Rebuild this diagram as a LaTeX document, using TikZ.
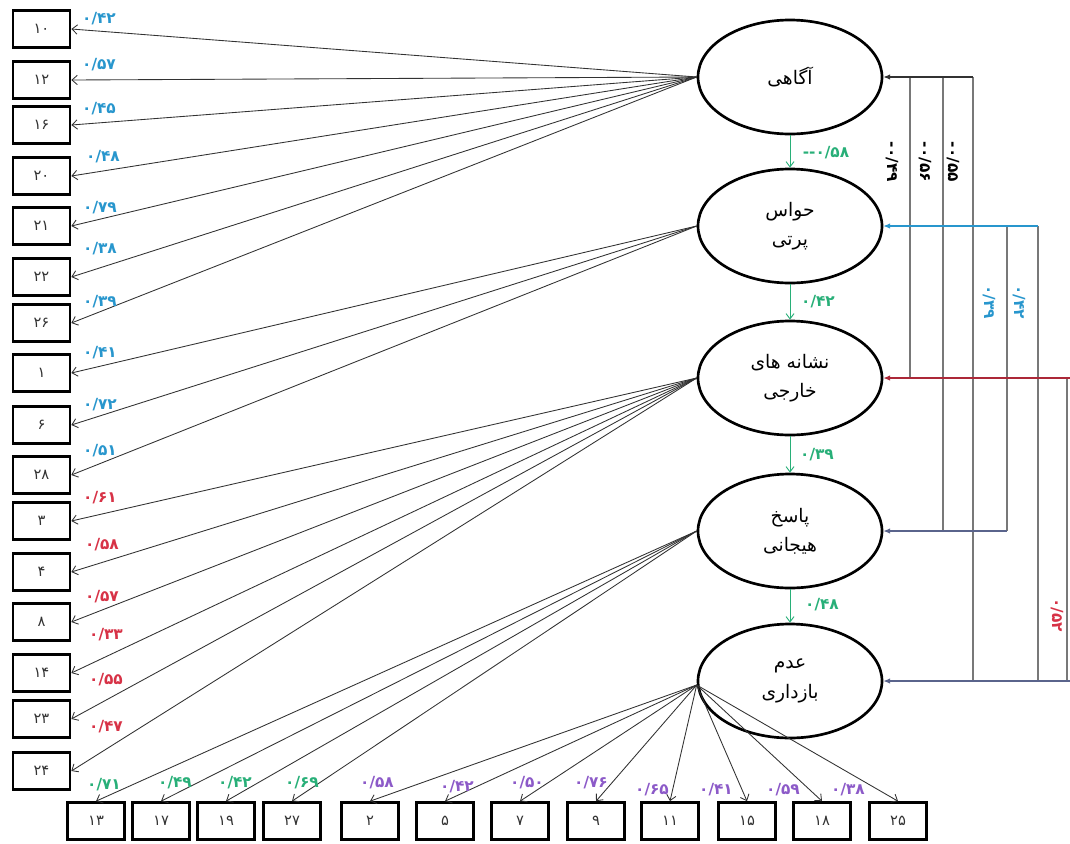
\documentclass[tikz,border=0pt]{standalone}
\usepackage{fontspec}
\setmainfont{DejaVu Sans}
\newfontfamily\fa[Script=Arabic]{DejaVu Sans}
\newfontfamily\lat{DejaVu Sans}
\TeXXeTstate=1
\usetikzlibrary{arrows.meta,shapes.geometric}
\definecolor{cblue}{RGB}{40,150,205}
\definecolor{cred}{RGB}{215,50,70}
\definecolor{cgreen}{RGB}{40,175,120}
\definecolor{cpurple}{RGB}{140,90,200}
\definecolor{cline}{RGB}{50,50,50}
\definecolor{cgray}{RGB}{120,120,120}
\definecolor{cslate}{RGB}{90,100,140}
\newcommand{\mns}{{\lat\bfseries -}}
\begin{document}
\begin{tikzpicture}[x=0.75pt,y=-0.75pt,
  lat/.style={ellipse,draw,line width=2pt,minimum width=138pt,minimum height=85.5pt,inner sep=0pt,align=center,font=\fa\fontsize{14}{22}\selectfont},
  obs/.style={draw,line width=2pt,minimum width=42.75pt,minimum height=27.75pt,inner sep=0pt,font=\fa\fontsize{11}{13}\selectfont,text=cline},
  lbl/.style={inner sep=0pt,font=\fa\bfseries\fontsize{11.5}{13}\selectfont},
  fan/.style={draw=cline,line width=0.65pt,-{Straight Barb[length=4pt,width=7pt]}},
  path/.style={draw=cgreen,line width=0.7pt,-{Straight Barb[length=4pt,width=6pt]}},
  vline/.style={draw=cgray,line width=0.9pt}]
\useasboundingbox (0,0) rectangle (1070,843);

% latent variables
\node[lat] (e1) at (790,77) {\beginR آگاهی\endR};
\node[lat] (e2) at (790,226) {\beginR حواس\endR\\\beginR پرتی\endR};
\node[lat] (e3) at (790,378) {\beginR نشانه های\endR\\\beginR خارجی\endR};
\node[lat] (e4) at (790,531) {\beginR پاسخ\endR\\\beginR هیجانی\endR};
\node[lat] (e5) at (790,681) {\beginR عدم\endR\\\beginR بازداری\endR};

% left boxes
\node[obs] (b10) at (41.5,29) {۱۰};
\node[obs] (b12) at (41.5,80) {۱۲};
\node[obs] (b16) at (41.5,125) {۱۶};
\node[obs] (b20) at (41.5,176) {۲۰};
\node[obs] (b21) at (41.5,226) {۲۱};
\node[obs] (b22) at (41.5,277) {۲۲};
\node[obs] (b26) at (41.5,323) {۲۶};
\node[obs] (b1) at (41.5,373) {۱};
\node[obs] (b6) at (41.5,425) {۶};
\node[obs] (b28) at (41.5,475) {۲۸};
\node[obs] (b3) at (41.5,521) {۳};
\node[obs] (b4) at (41.5,572) {۴};
\node[obs] (b8) at (41.5,622) {۸};
\node[obs] (b14) at (41.5,673) {۱۴};
\node[obs] (b23) at (41.5,719) {۲۳};
\node[obs] (b24) at (41.5,771) {۲۴};

% bottom boxes
\node[obs] (b13) at (96,821) {۱۳};
\node[obs] (b17) at (161,821) {۱۷};
\node[obs] (b19) at (226,821) {۱۹};
\node[obs] (b27) at (292,821) {۲۷};
\node[obs] (b2) at (370,821) {۲};
\node[obs] (b5) at (445,821) {۵};
\node[obs] (b7) at (520,821) {۷};
\node[obs] (b9) at (596,821) {۹};
\node[obs] (b11) at (670,821) {۱۱};
\node[obs] (b15) at (747,821) {۱۵};
\node[obs] (b18) at (822,821) {۱۸};
\node[obs] (b25) at (898,821) {۲۵};

% fan connectors
\foreach \b in {b10,b12,b16,b20,b21,b22,b26} \draw[fan] (e1.west) -- (\b.east);
\foreach \b in {b1,b6,b28} \draw[fan] (e2.west) -- (\b.east);
\foreach \b in {b3,b4,b8,b14,b23,b24} \draw[fan] (e3.west) -- (\b.east);
\foreach \b in {b13,b17,b19,b27} \draw[fan] (e4.west) -- (\b.north);
\foreach \b in {b2,b5,b7,b9,b11,b15,b18,b25} \draw[fan] ([yshift=-3pt]e5.west) -- (\b.north);

% paths between latent variables
\draw[path] (e1.south) -- (e2.north);
\draw[path] (e2.south) -- (e3.north);
\draw[path] (e3.south) -- (e4.north);
\draw[path] (e4.south) -- (e5.north);

% correlation lines on the right
\coordinate (a1) at (910,77);
\coordinate (a2) at (943,77);
\coordinate (a3) at (973,77);
\coordinate (a1b) at (910,378);
\coordinate (a2b) at (943,531);
\coordinate (a3b) at (973,681);
\coordinate (c1) at (1007,226);
\coordinate (c2) at (1038,226);
\coordinate (c1b) at (1007,531);
\coordinate (c2b) at (1038,681);
\coordinate (d1) at (1067,378);
\coordinate (d1b) at (1067,681);
\coordinate (redend) at (1070,378);
\coordinate (e5end) at (1070,681);

\draw[vline] (a1) -- (a1b);
\draw[vline] (a2) -- (a2b);
\draw[vline] (a3) -- (a3b);
\draw[vline] (c1) -- (c1b);
\draw[vline] (c2) -- (c2b);
\draw[vline] (d1) -- (d1b);
\draw[draw=cline,line width=0.8pt,{Latex[length=5pt,width=4pt]}-] (e1.east) -- (a3);
\draw[draw=cblue,line width=0.8pt,{Latex[length=5pt,width=4pt]}-] (e2.east) -- (c2);
\draw[draw=cred!80!black,line width=0.8pt,{Latex[length=5pt,width=4pt]}-] (e3.east) -- (redend);
\draw[draw=cslate,line width=0.8pt,{Latex[length=5pt,width=4pt]}-] (e4.east) -- (c1b);
\draw[draw=cslate,line width=0.8pt,{Latex[length=5pt,width=4pt]}-] (e5.east) -- (e5end);

% left labels
\node[lbl,text=cblue] (l10) at (99,19) {۰/۴۲};
\node[lbl,text=cblue] (l12) at (99,65) {۰/۵۷};
\node[lbl,text=cblue] (l16) at (99,109) {۰/۴۵};
\node[lbl,text=cblue] (l20) at (103,157) {۰/۴۸};
\node[lbl,text=cblue] (l21) at (100,208) {۰/۷۹};
\node[lbl,text=cblue] (l22) at (100,249) {۰/۳۸};
\node[lbl,text=cblue] (l26) at (100,302) {۰/۳۹};
\node[lbl,text=cblue] (l1) at (100,353) {۰/۴۱};
\node[lbl,text=cblue] (l6) at (100,405) {۰/۷۲};
\node[lbl,text=cblue] (l28) at (100,451) {۰/۵۱};
\node[lbl,text=cred] (l3) at (100,498) {۰/۶۱};
\node[lbl,text=cred] (l4) at (102,545) {۰/۵۸};
\node[lbl,text=cred] (l8) at (102,597) {۰/۵۷};
\node[lbl,text=cred] (l14) at (106,635) {۰/۳۳};
\node[lbl,text=cred] (l23) at (106,680) {۰/۵۵};
\node[lbl,text=cred] (l24) at (106,727) {۰/۴۷};

% bottom labels
\node[lbl,text=cgreen] (l13) at (104,785) {۰/۷۱};
\node[lbl,text=cgreen] (l17) at (175,783) {۰/۴۹};
\node[lbl,text=cgreen] (l19) at (235,783) {۰/۴۲};
\node[lbl,text=cgreen] (l27) at (302,783) {۰/۶۹};
\node[lbl,text=cpurple] (l2) at (377,783) {۰/۵۸};
\node[lbl,text=cpurple] (l5) at (457,787) {۰/۴۲};
\node[lbl,text=cpurple] (l7) at (527,783) {۰/۵۰};
\node[lbl,text=cpurple] (l9) at (591,783) {۰/۷۶};
\node[lbl,text=cpurple] (l11) at (652,790) {۰/۶۵};
\node[lbl,text=cpurple] (l15) at (716,790) {۰/۴۱};
\node[lbl,text=cpurple] (l18) at (783,790) {۰/۵۹};
\node[lbl,text=cpurple] (l25) at (848,790) {۰/۳۸};

% path labels
\node[lbl,text=cgreen] (p1) at (826,153) {\mns\mns۰/۵۸};
\node[lbl,text=cgreen] (p2) at (818,302) {۰/۴۲};
\node[lbl,text=cgreen] (p3) at (817,455) {۰/۳۹};
\node[lbl,text=cgreen] (p4) at (822,605) {۰/۴۸};

% correlation labels
\node[lbl,rotate=-90] (r1) at (892,162) {\mns۰/۴۹};
\node[lbl,rotate=-90] (r2) at (925,162) {\mns۰/۵۶};
\node[lbl,rotate=-90] (r3) at (953,162) {\mns۰/۵۵};
\node[lbl,rotate=-90,text=cblue] (r4) at (989,302) {۰/۳۹};
\node[lbl,rotate=-90,text=cblue] (r5) at (1019,302) {۰/۴۲};
\node[lbl,rotate=-90,text=cred] (r6) at (1057,615) {۰/۵۲};
\end{tikzpicture}
\end{document}
